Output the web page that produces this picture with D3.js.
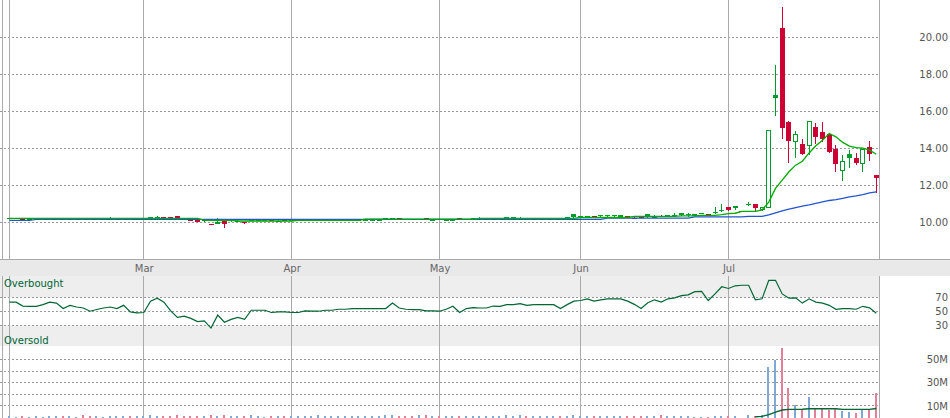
<!DOCTYPE html>
<html>
<head>
<meta charset="utf-8">
<script src="https://cdn.jsdelivr.net/npm/d3@7"></script>
<style>
  html, body { margin: 0; padding: 0; background: #fff; }
  svg { display: block; font-family: "DejaVu Sans", Verdana, sans-serif; }
</style>
</head>
<body>
<div id="chart"></div>
<script>
// ---- data: one entry per trading day (130 days, Feb -> end of Jul) ----
const opens = [
  10.22,10.22,10.21,10.21,10.21,10.22,10.23,10.23,10.21,10.22,
  10.22,10.21,10.20,10.21,10.21,10.22,10.22,10.23,10.21,10.21,
  10.21,10.28,10.32,10.28,10.28,10.33,10.20,10.16,10.11,10.14,
  9.92,10.00,10.09,10.14,10.10,10.03,10.14,10.14,10.11,10.12,
  10.10,10.14,10.12,10.12,10.13,10.13,10.14,10.14,10.15,10.15,
  10.16,10.16,10.16,10.16,10.16,10.16,10.22,10.22,10.22,10.19,
  10.21,10.18,10.22,10.16,10.18,10.15,10.17,10.22,10.18,10.22,
  10.27,10.23,10.22,10.22,10.29,10.29,10.27,10.26,10.26,10.26,
  10.26,10.26,10.24,10.28,10.45,10.34,10.27,10.33,10.39,10.39,
  10.39,10.32,10.34,10.27,10.34,10.45,10.36,10.36,10.37,10.40,
  10.50,10.47,10.36,10.49,10.46,10.56,10.70,10.84,10.88,10.62,
  10.99,10.99,10.66,10.81,16.88,20.49,15.41,14.34,14.23,14.14,
  15.17,14.87,14.76,13.96,12.79,13.69,13.46,13.16,14.09,12.57
];
const highs = [
  10.22,10.22,10.21,10.21,10.21,10.22,10.23,10.23,10.21,10.22,
  10.22,10.21,10.20,10.21,10.21,10.28,10.22,10.23,10.21,10.21,
  10.21,10.28,10.33,10.28,10.28,10.34,10.20,10.17,10.12,10.15,
  9.93,10.25,10.09,10.14,10.12,10.04,10.14,10.14,10.11,10.14,
  10.12,10.14,10.12,10.12,10.13,10.13,10.14,10.14,10.15,10.15,
  10.16,10.16,10.16,10.16,10.16,10.16,10.22,10.22,10.22,10.20,
  10.21,10.21,10.22,10.16,10.20,10.15,10.21,10.22,10.18,10.22,
  10.28,10.23,10.23,10.22,10.29,10.29,10.29,10.26,10.26,10.26,
  10.26,10.26,10.24,10.28,10.45,10.34,10.35,10.33,10.39,10.39,
  10.40,10.40,10.35,10.30,10.35,10.46,10.40,10.39,10.39,10.52,
  10.50,10.50,10.48,10.52,10.47,10.82,10.98,10.86,10.90,10.62,
  11.11,10.99,10.84,15.00,18.50,21.65,15.49,14.94,14.49,15.48,
  15.39,15.44,14.86,14.18,13.64,13.91,13.76,14.00,14.38,12.57
];
const lows = [
  10.22,10.22,10.21,10.21,10.21,10.22,10.23,10.23,10.21,10.22,
  10.22,10.21,10.20,10.21,10.21,10.21,10.22,10.23,10.21,10.21,
  10.21,10.22,10.22,10.22,10.22,10.21,10.20,10.11,10.04,10.03,
  9.86,9.91,9.71,10.05,10.06,9.92,10.08,10.09,10.11,10.06,
  10.08,10.07,10.08,10.12,10.13,10.13,10.14,10.14,10.15,10.15,
  10.16,10.16,10.16,10.16,10.16,10.16,10.16,10.16,10.16,10.14,
  10.14,10.16,10.16,10.16,10.13,10.15,10.15,10.16,10.18,10.16,
  10.18,10.18,10.18,10.22,10.18,10.18,10.22,10.26,10.26,10.26,
  10.26,10.26,10.24,10.22,10.22,10.22,10.26,10.33,10.29,10.27,
  10.31,10.25,10.26,10.24,10.25,10.22,10.30,10.31,10.33,10.33,
  10.37,10.30,10.35,10.45,10.39,10.45,10.57,10.61,10.66,10.62,
  10.88,10.57,10.64,10.78,15.76,14.54,13.22,13.51,13.64,13.64,
  14.27,14.34,13.76,12.74,12.25,12.95,13.13,12.74,13.32,11.60
];
const closes = [
  10.22,10.22,10.21,10.21,10.21,10.22,10.23,10.23,10.21,10.22,
  10.22,10.21,10.20,10.21,10.21,10.22,10.22,10.23,10.21,10.21,
  10.21,10.24,10.32,10.23,10.22,10.21,10.20,10.15,10.05,10.09,
  9.87,10.01,9.91,10.06,10.09,9.95,10.10,10.11,10.11,10.08,
  10.10,10.07,10.10,10.12,10.13,10.13,10.14,10.14,10.15,10.15,
  10.16,10.16,10.16,10.16,10.16,10.16,10.17,10.18,10.16,10.15,
  10.14,10.18,10.16,10.16,10.15,10.15,10.18,10.16,10.18,10.19,
  10.20,10.21,10.22,10.22,10.23,10.24,10.27,10.26,10.26,10.26,
  10.26,10.26,10.24,10.25,10.31,10.34,10.35,10.33,10.39,10.39,
  10.39,10.40,10.27,10.26,10.25,10.32,10.37,10.34,10.38,10.40,
  10.42,10.43,10.47,10.49,10.40,10.56,10.70,10.68,10.77,10.62,
  10.99,10.76,10.84,14.98,16.74,15.11,14.41,14.81,13.69,15.48,
  14.63,14.50,13.82,13.16,13.33,13.49,13.22,13.96,13.69,12.38
];
// short (green) and long (blue) moving averages as drawn
const maShort = [
  10.22,10.22,10.22,10.22,10.22,10.22,10.22,10.22,10.22,10.22,
  10.22,10.22,10.22,10.22,10.22,10.22,10.22,10.22,10.22,10.22,
  10.22,10.22,10.22,10.22,10.22,10.22,10.22,10.22,10.22,10.12,
  10.12,10.12,10.12,10.12,10.08,10.08,10.08,10.08,10.08,10.08,
  10.08,10.08,10.08,10.12,10.12,10.12,10.12,10.12,10.12,10.12,
  10.12,10.12,10.12,10.18,10.18,10.18,10.18,10.18,10.18,10.18,
  10.18,10.18,10.18,10.18,10.18,10.18,10.18,10.18,10.18,10.18,
  10.22,10.22,10.22,10.22,10.22,10.22,10.22,10.22,10.22,10.22,
  10.22,10.22,10.22,10.22,10.22,10.27,10.27,10.27,10.27,10.27,
  10.27,10.27,10.27,10.33,10.33,10.33,10.33,10.33,10.33,10.33,
  10.36,10.36,10.36,10.39,10.39,10.39,10.43,10.48,10.50,10.60,
  10.60,10.60,10.68,11.10,11.84,12.29,12.74,13.10,13.31,13.76,
  14.15,14.45,14.81,14.63,14.33,14.13,14.05,14.02,13.91,13.69
];
const maLong = [
  10.12,10.12,10.12,10.12,10.17,10.17,10.17,10.17,10.17,10.17,
  10.17,10.17,10.17,10.17,10.17,10.17,10.17,10.17,10.17,10.17,
  10.17,10.17,10.17,10.17,10.17,10.17,10.17,10.17,10.17,10.17,
  10.17,10.17,10.17,10.17,10.17,10.17,10.17,10.17,10.17,10.17,
  10.17,10.17,10.17,10.17,10.17,10.17,10.17,10.17,10.17,10.17,
  10.17,10.17,10.17,10.17,10.17,10.17,10.17,10.17,10.17,10.17,
  10.17,10.17,10.17,10.17,10.17,10.17,10.17,10.17,10.17,10.17,
  10.17,10.17,10.17,10.17,10.17,10.17,10.17,10.17,10.17,10.17,
  10.17,10.17,10.17,10.17,10.17,10.17,10.17,10.17,10.17,10.24,
  10.24,10.24,10.24,10.24,10.24,10.24,10.24,10.24,10.24,10.24,
  10.24,10.24,10.30,10.30,10.30,10.30,10.30,10.30,10.30,10.30,
  10.33,10.33,10.33,10.41,10.52,10.63,10.72,10.81,10.88,10.95,
  11.03,11.11,11.19,11.24,11.31,11.38,11.44,11.51,11.60,11.65
];
const rsi = [
  63.4,63.4,57.8,57.4,57.4,59.8,63.4,62.0,54.2,58.8,
  56.4,55.0,50.4,52.8,55.0,56.4,54.2,58.8,49.5,48.1,
  48.6,64.8,69.0,63.4,50.8,41.6,43.4,40.2,35.5,36.5,
  26.3,44.8,34.7,38.8,41.6,38.8,51.8,51.8,51.8,48.6,
  49.5,49.5,48.6,48.6,50.8,50.4,50.4,51.8,51.8,53.2,
  53.2,54.2,54.2,54.2,54.2,54.2,54.2,62.0,55.0,53.2,
  52.8,52.8,50.8,50.8,50.4,53.2,57.4,48.6,54.2,55.5,
  55.0,55.0,57.8,57.4,59.8,59.8,61.1,58.8,59.8,59.8,
  59.8,59.8,54.2,59.8,64.8,65.7,68.1,64.8,66.7,68.1,
  68.1,68.1,64.8,60.2,54.2,62.5,66.7,63.4,68.1,69.5,
  72.7,73.7,78.3,78.8,65.7,75.1,85.3,82.9,86.7,87.5,
  87.5,66.7,68.1,94.6,94.6,75.1,69.0,69.5,62.0,68.1,
  63.4,62.0,58.8,53.2,54.2,54.2,53.2,57.4,55.3,47.5
];
// volume in millions
const volumes = [
  1.0,0.8,1.0,0.6,1.0,0.6,1.0,1.0,1.0,1.0,
  0.6,2.5,1.0,1.0,0.8,1.2,1.0,1.0,1.0,1.0,
  1.0,2.5,1.5,1.5,1.2,2.5,1.0,1.2,1.5,1.2,
  2.5,1.5,2.5,1.2,1.0,1.2,2.5,1.0,0.8,1.0,
  1.0,1.2,1.0,1.0,1.0,1.0,2.0,1.0,1.0,1.0,
  1.0,1.0,1.0,1.0,1.0,1.0,2.0,2.5,1.0,1.0,
  1.0,2.5,2.0,1.0,1.0,1.0,1.0,1.0,1.0,1.0,
  1.2,1.0,1.0,1.0,2.0,1.2,2.5,1.0,1.0,1.0,
  1.0,1.0,1.0,1.2,2.5,1.2,1.2,1.0,1.0,1.0,
  1.0,1.0,1.0,1.0,1.2,1.5,1.0,2.0,1.0,1.5,
  1.2,1.0,0.6,0.6,0.6,1.5,1.5,1.5,1.5,0,
  2.4,1.5,2.4,43.6,50.0,60.3,25.3,10.6,7.7,17.8,
  7.7,7.7,6.3,7.7,5.7,4.8,4.0,6.9,6.9,21.2
];
// volume average line only shows over the last weeks
const volAvgStart = 111;
const volAvg = [0.6,1.0,2.5,4.6,6.5,7.0,7.0,7.1,7.5,7.5,7.5,7.5,7.5,7.0,7.0,7.0,7.0,7.0,7.8];

// first trading day of each month; the opening month gets a line but no label
const monthTicks = [
  {day: 0, label: ""}, {day: 20, label: "Mar"}, {day: 42, label: "Apr"},
  {day: 64, label: "May"}, {day: 85, label: "Jun"}, {day: 107, label: "Jul"}
];
const priceTicks = [10, 12, 14, 16, 18, 20];
const rsiTicks = [30, 50, 70];
const volGrid = [10, 20, 30, 40, 50];
const volLabels = [10, 30, 50];

// ---- layout ----
const width = 950, height = 418;
const plotLeft = 2.5, plotRight = 879.5;
const priceBottom = 259.5, stripBottom = 276, rsiBottom = 346;

const upCandle = "#009a2e", downCandle = "#cc0033";
const upVol = "#80a8d4", downVol = "#e47f99";
const darkGreen = "#006633";

const crisp = v => Math.round(v - 0.5) + 0.5;

const svg = d3.select("#chart").append("svg")
  .attr("width", width)
  .attr("height", height);

const x = d3.scaleLinear().domain([0, closes.length - 1]).range([9.4, 876.3]);
const yPrice = d3.scaleLinear().domain([10, 20]).range([222.5, 37.5]);
const yRsi = d3.scaleLinear().domain([30, 70]).range([325.5, 297.5]);
const yVol = d3.scaleLinear().domain([0, 50]).range([417.5, 359.5]);

let rows = closes.map((c, i) => ({
  i: i,
  o: opens[i], h: highs[i], l: lows[i], c: c,
  v: volumes[i],
  up: i === 0 ? true : c >= closes[i - 1]
}));

// ---- backgrounds ----
svg.append("rect")
  .attr("x", 0).attr("y", priceBottom)
  .attr("width", width).attr("height", stripBottom - priceBottom)
  .attr("fill", "#e9e9e9");
svg.append("line")
  .attr("x1", 0).attr("x2", width)
  .attr("y1", priceBottom).attr("y2", priceBottom)
  .attr("stroke", "#aaa");

// overbought / oversold bands
svg.append("rect")
  .attr("x", 0).attr("y", stripBottom)
  .attr("width", plotRight).attr("height", yRsi(70) - stripBottom)
  .attr("fill", "#eeeeee");
svg.append("rect")
  .attr("x", 0).attr("y", yRsi(30))
  .attr("width", plotRight).attr("height", rsiBottom - yRsi(30))
  .attr("fill", "#eeeeee");

// ---- dotted horizontal grid ----
function hGrid(values, scale) {
  svg.append("g").selectAll("line")
    .data(values)
    .enter()
    .append("line")
      .attr("x1", 0).attr("x2", plotRight)
      .attr("y1", d => crisp(scale(d)))
      .attr("y2", d => crisp(scale(d)))
      .attr("stroke", "#999")
      .attr("stroke-dasharray", "2,2");
}
hGrid(priceTicks, yPrice);
hGrid(rsiTicks, yRsi);
hGrid(volGrid, yVol);

// ---- vertical lines (left edge, months, right edge) ----
let vLines = [plotLeft, plotRight].concat(monthTicks.map(d => crisp(x(d.day))));
[[0, priceBottom], [stripBottom, height]].forEach(span => {
  svg.append("g").selectAll("line")
    .data(vLines)
    .enter()
    .append("line")
      .attr("x1", d => d).attr("x2", d => d)
      .attr("y1", span[0]).attr("y2", span[1])
      .attr("stroke", "#aaa");
});

// ---- candles ----
let candles = svg.append("g").selectAll("g")
  .data(rows)
  .enter()
  .append("g");

candles.filter(d => d.h > d.l)
  .append("line")
    .attr("x1", d => Math.floor(x(d.i)) + 0.5)
    .attr("x2", d => Math.floor(x(d.i)) + 0.5)
    .attr("y1", d => Math.round(yPrice(d.h)))
    .attr("y2", d => Math.round(yPrice(d.l)))
    .attr("stroke", d => d.up ? upCandle : downCandle);

// filled bodies (close <= open)
candles.filter(d => d.c <= d.o)
  .append("rect")
    .attr("x", d => Math.floor(x(d.i)) - 2)
    .attr("y", d => Math.round(yPrice(d.o)))
    .attr("width", 5)
    .attr("height", d => Math.max(1, Math.round(yPrice(d.c)) - Math.round(yPrice(d.o))))
    .attr("fill", d => d.up ? upCandle : downCandle);

// hollow bodies (close > open)
candles.filter(d => d.c > d.o)
  .append("rect")
    .attr("x", d => Math.floor(x(d.i)) - 1.5)
    .attr("y", d => Math.round(yPrice(d.c)) + 0.5)
    .attr("width", 4)
    .attr("height", d => Math.max(1, Math.round(yPrice(d.o)) - Math.round(yPrice(d.c)) - 1))
    .attr("fill", "#fff")
    .attr("stroke", d => d.up ? upCandle : downCandle);

// ---- moving averages ----
let maLine = d3.line()
  .x((d, i) => x(i))
  .y(d => yPrice(d));

svg.append("path")
  .attr("d", maLine(maLong))
  .attr("fill", "none")
  .attr("stroke", "#2255cc")
  .attr("stroke-width", 1.3);

svg.append("path")
  .attr("d", maLine(maShort))
  .attr("fill", "none")
  .attr("stroke", "#00aa00")
  .attr("stroke-width", 1.3);

// ---- RSI ----
svg.append("path")
  .attr("d", d3.line().x((d, i) => x(i)).y(d => yRsi(d))(rsi))
  .attr("fill", "none")
  .attr("stroke", darkGreen)
  .attr("stroke-width", 1.2);

svg.append("text")
  .attr("x", 4).attr("y", 286.5)
  .attr("font-size", 10)
  .attr("fill", darkGreen)
  .text("Overbought");
svg.append("text")
  .attr("x", 4).attr("y", 343.5)
  .attr("font-size", 10)
  .attr("fill", darkGreen)
  .text("Oversold");

// ---- volume ----
svg.append("g").selectAll("rect")
  .data(rows.filter(d => d.v > 0))
  .enter()
  .append("rect")
    .attr("x", d => Math.floor(x(d.i)) - 1)
    .attr("y", d => Math.round(yVol(d.v)))
    .attr("width", 2)
    .attr("height", d => height - Math.round(yVol(d.v)))
    .attr("fill", d => d.up ? upVol : downVol);

svg.append("path")
  .attr("d", d3.line().x((d, i) => x(volAvgStart + i)).y(d => yVol(d))(volAvg))
  .attr("fill", "none")
  .attr("stroke", darkGreen)
  .attr("stroke-width", 1.4);

// ---- axes / labels ----
function styleAxis(g) {
  g.select(".domain").remove();
  g.selectAll("text")
    .attr("font-family", "DejaVu Sans, Verdana, sans-serif")
    .attr("font-size", 10);
}

svg.append("g")
  .attr("transform", "translate(948,0)")
  .call(d3.axisLeft(yPrice).tickValues(priceTicks).tickSize(0).tickPadding(0)
    .tickFormat(d3.format(".2f")))
  .call(styleAxis)
  .selectAll("text").attr("fill", "#555");

svg.append("g")
  .attr("transform", "translate(948,0)")
  .call(d3.axisLeft(yRsi).tickValues(rsiTicks).tickSize(0).tickPadding(0))
  .call(styleAxis)
  .selectAll("text").attr("fill", "#555");

svg.append("g")
  .attr("transform", "translate(948,0)")
  .call(d3.axisLeft(yVol).tickValues(volLabels).tickSize(0).tickPadding(0)
    .tickFormat(d => d + "M"))
  .call(styleAxis)
  .selectAll("text").attr("fill", "#555");

svg.append("g")
  .attr("transform", "translate(0," + priceBottom + ")")
  .call(d3.axisBottom(x)
    .tickValues(monthTicks.map(d => d.day))
    .tickFormat((d, i) => monthTicks[i].label)
    .tickSize(0).tickPadding(5))
  .call(styleAxis)
  .selectAll("text").attr("fill", "#666");
</script>
</body>
</html>
